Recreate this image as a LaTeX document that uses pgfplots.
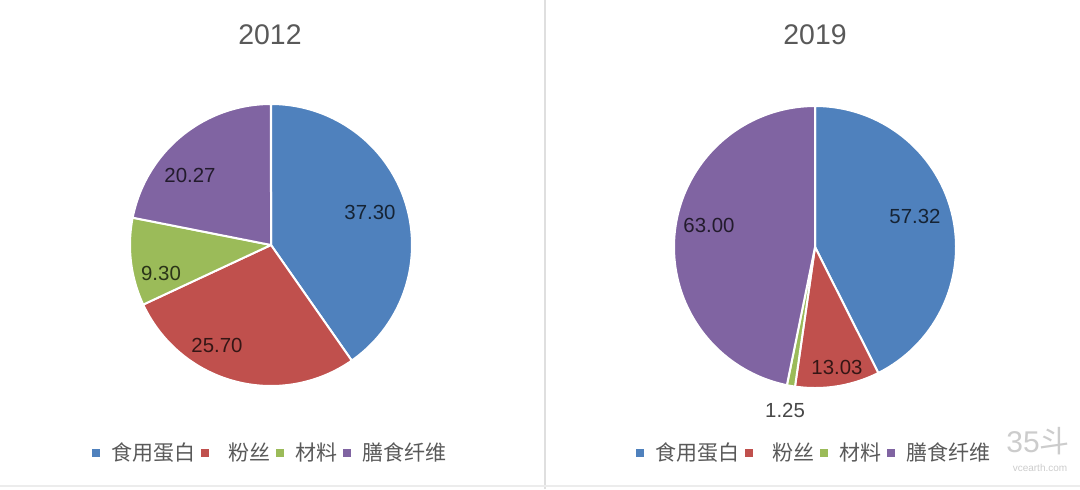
\documentclass[border=0pt]{standalone}
\usepackage{pgfplots}
\usepackage{pgfplotstable}
\pgfplotsset{compat=1.18}
\usepackage{fontspec}
\setmainfont{Liberation Sans}
\newfontfamily\cjk{Noto Sans CJK SC}
\definecolor{cBlue}{HTML}{4F81BD}
\definecolor{cRed}{HTML}{C0504D}
\definecolor{cGreen}{HTML}{9BBB59}
\definecolor{cPurple}{HTML}{8064A2}
\definecolor{tgray}{HTML}{595959}

% values of the two pies (rows: 食用蛋白, 粉丝, 材料, 膳食纤维)
\pgfplotstableread{
v2012 v2019
37.30 57.32
25.70 13.03
9.30  1.25
20.27 63.00
}\piedata

\newcommand\getv[3]{\pgfplotstablegetelem{#1}{#2}\of\piedata\global\let#3\pgfplotsretval}
\getv{0}{v2012}\vAa \getv{1}{v2012}\vAb \getv{2}{v2012}\vAc \getv{3}{v2012}\vAd
\getv{0}{v2019}\vBa \getv{1}{v2019}\vBb \getv{2}{v2019}\vBc \getv{3}{v2019}\vBd
\pgfmathsetmacro\TotA{\vAa+\vAb+\vAc+\vAd}
\pgfmathsetmacro\Aa{90-360*(\vAa/\TotA)}
\pgfmathsetmacro\Ab{\Aa-360*(\vAb/\TotA)}
\pgfmathsetmacro\Ac{\Ab-360*(\vAc/\TotA)}
\pgfmathsetmacro\Ad{\Ac-360*(\vAd/\TotA)}
\pgfmathsetmacro\TotB{\vBa+\vBb+\vBc+\vBd}
\pgfmathsetmacro\Ba{90-360*(\vBa/\TotB)}
\pgfmathsetmacro\Bb{\Ba-360*(\vBb/\TotB)}
\pgfmathsetmacro\Bc{\Bb-360*(\vBc/\TotB)}
\pgfmathsetmacro\Bd{\Bc-360*(\vBd/\TotB)}

% wedge: cx cy r from to colour
\newcommand\pieWedge[6]{%
  \addplot[fill=#6, draw=white, line width=1pt, line join=round,
    domain=#4:#5, samples=90, variable=\t]
    ({#1+#3*cos(\t)},{#2+#3*sin(\t)}) -- (#1,#2) -- cycle;}

\pgfplotsset{
  piepanel/.style={
    x=0.5pt, y=0.5pt, ymin=0, ymax=489,
    hide axis, clip=false, anchor=south west,
    legend columns=4,
    legend image code/.code={\fill[##1,draw=none] (0pt,-2.1pt) rectangle (4.2pt,2.1pt);},
    legend style={draw=none, fill=none, anchor=center,
      font=\cjk\fontsize{10.5pt}{12pt}\selectfont, text=tgray,
      /tikz/every odd column/.append style={column sep=3.5pt},
      /tikz/every even column/.append style={column sep=0.8pt}},
  },
}
\tikzset{
  lbl/.style={font=\fontsize{10.2pt}{12pt}\selectfont, text=black, text opacity=0.72},
  ttl/.style={font=\fontsize{14.2pt}{16pt}\selectfont, text=tgray},
}

\begin{document}
\begin{tikzpicture}
\useasboundingbox (0,0) rectangle (540pt,244.5pt);
\begin{axis}[piepanel, at={(0pt,0pt)}, xmin=0, xmax=545,
  legend style={at={(0.497,0.0736)}}]
  \pieWedge{271}{244}{141}{\Aa}{90}{cBlue}
  \pieWedge{271}{244}{141}{\Ab}{\Aa}{cRed}
  \pieWedge{271}{244}{141}{\Ac}{\Ab}{cGreen}
  \pieWedge{271}{244}{141}{\Ad}{\Ac}{cPurple}
  \legend{食用蛋白,\hspace{4pt}粉丝,材料,膳食纤维}
  \node[lbl] at (370,277) {37.30};
  \node[lbl] at (217,144) {25.70};
  \node[lbl] at (161,216) {9.30};
  \node[lbl] at (190,314) {20.27};
  \node[ttl] at (270,454) {2012};
  \draw[gray!25, line width=1pt] (545,0) -- (545,489);
  \draw[gray!15, line width=1pt] (0,3) -- (545,3);
\end{axis}
\begin{axis}[piepanel, at={(272.5pt,0pt)}, xmin=545, xmax=1080,
  legend style={at={(0.505,0.0736)}}]
  \pieWedge{815}{242}{141}{\Ba}{90}{cBlue}
  \pieWedge{815}{242}{141}{\Bb}{\Ba}{cRed}
  \pieWedge{815}{242}{141}{\Bc}{\Bb}{cGreen}
  \pieWedge{815}{242}{141}{\Bd}{\Bc}{cPurple}
  \legend{食用蛋白,\hspace{4pt}粉丝,材料,膳食纤维}
  \node[lbl] at (915,273) {57.32};
  \node[lbl] at (837,122) {13.03};
  \node[lbl] at (785,79) {1.25};
  \node[lbl] at (709,264) {63.00};
  \node[ttl] at (815,454) {2019};
  \draw[gray!15, line width=1pt] (545,3) -- (1080,3);
  \node[text=gray!40, font=\fontsize{15pt}{15pt}\selectfont] at (1038,48) {35{\cjk 斗}};
  \node[text=gray!40, font=\fontsize{5pt}{6pt}\selectfont] at (1040,21) {vcearth.com};
\end{axis}
\end{tikzpicture}
\end{document}
